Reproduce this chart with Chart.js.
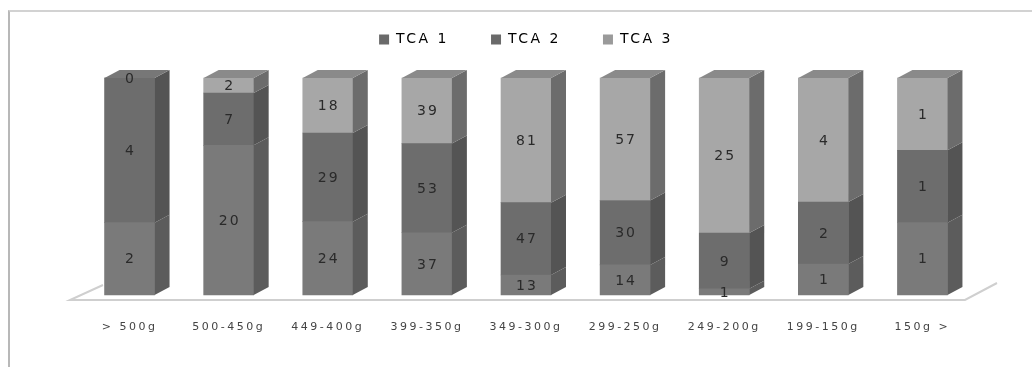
<!DOCTYPE html>
<html>
<head>
<meta charset="utf-8">
<script src="https://cdn.jsdelivr.net/npm/chart.js@4.4.1/dist/chart.umd.min.js"></script>
<style>
  html, body { margin: 0; padding: 0; background: #fff; }
  #caja { position: relative; width: 1032px; height: 367px; overflow: hidden; }
  #marco { position: absolute; left: 8px; top: 10px; width: 1100px; height: 400px;
           border-left: 2px solid #b8b8b8; border-top: 2px solid #d2d2d2; }
  #grafica { position: absolute; left: 0; top: 0; }
</style>
</head>
<body>
<div id="caja">
  <div id="marco"></div>
  <canvas id="grafica" width="1032" height="367"></canvas>
</div>
<script>
const categorias = ['> 500g', '500-450g', '449-400g', '399-350g', '349-300g', '299-250g', '249-200g', '199-150g', '150g >'];
const tca1 = [2, 20, 24, 37, 13, 14, 1, 1, 1];
const tca2 = [4, 7, 29, 53, 47, 30, 9, 2, 1];
const tca3 = [0, 2, 18, 39, 81, 57, 25, 4, 1];
const series = ['TCA 1', 'TCA 2', 'TCA 3'];

const frente = ['#7a7a7a', '#6d6d6d', '#a7a7a7'];
const lado = ['#5c5c5c', '#545454', '#6c6c6c'];
const arriba = ['#858585', '#777777', '#8a8a8a'];
const leyenda = ['#6a6a6a', '#6a6a6a', '#9a9a9a'];

const crudos = [tca1, tca2, tca3];
const totales = categorias.map((c, j) => tca1[j] + tca2[j] + tca3[j]);
const porcentajes = crudos.map(s => s.map((v, j) => v / totales[j] * 100));

const DX = 15, DY = -8;

// espaciado de letras (el original esta estirado en horizontal)
const espaciado = {
  id: 'espaciado',
  beforeLayout(chart) { chart.ctx.letterSpacing = '2.5px'; }
};

// piso gris claro
const piso = {
  id: 'piso',
  beforeDatasetsDraw(chart) {
    const a = chart.chartArea, ctx = chart.ctx;
    ctx.save();
    ctx.strokeStyle = '#cfcfcf';
    ctx.lineWidth = 2;
    ctx.beginPath();
    ctx.moveTo(a.left + 23, a.bottom - 10);
    ctx.lineTo(a.left - 10, a.bottom + 5);
    ctx.lineTo(a.right - 7, a.bottom + 5);
    ctx.lineTo(a.right + 25, a.bottom - 12);
    ctx.stroke();
    ctx.restore();
  }
};

// caras laterales y superior + etiquetas
const barras3d = {
  id: 'barras3d',
  afterDatasetsDraw(chart) {
    const ctx = chart.ctx;
    ctx.save();
    categorias.forEach((c, j) => {
      let ultimo = -1;
      for (let i = 0; i < 3; i++) {
        const b = chart.getDatasetMeta(i).data[j];
        const r = b.x + b.width / 2;
        if (b.base - b.y > 0.1) {
          ctx.fillStyle = lado[i];
          ctx.beginPath();
          ctx.moveTo(r, b.y);
          ctx.lineTo(r + DX, b.y + DY);
          ctx.lineTo(r + DX, b.base + DY);
          ctx.lineTo(r, b.base);
          ctx.closePath();
          ctx.fill();
          ultimo = i;
        }
      }
      if (ultimo >= 0) {
        const b = chart.getDatasetMeta(ultimo).data[j];
        const l = b.x - b.width / 2, r = b.x + b.width / 2;
        ctx.fillStyle = arriba[ultimo];
        ctx.beginPath();
        ctx.moveTo(l, b.y);
        ctx.lineTo(l + DX, b.y + DY);
        ctx.lineTo(r + DX, b.y + DY);
        ctx.lineTo(r, b.y);
        ctx.closePath();
        ctx.fill();
      }
    });
    ctx.letterSpacing = '2px';
    ctx.font = '14px "DejaVu Sans"';
    ctx.fillStyle = '#2a2a2a';
    ctx.textAlign = 'center';
    ctx.textBaseline = 'middle';
    for (let i = 0; i < 3; i++) {
      chart.getDatasetMeta(i).data.forEach((b, j) => {
        ctx.fillText(String(crudos[i][j]), b.x + 1, (b.y + b.base) / 2 + 1);
      });
    }
    ctx.restore();
  }
};

const chartData = {
  labels: categorias,
  datasets: series.map((s, i) => ({
    label: s,
    data: porcentajes[i],
    backgroundColor: frente[i],
    borderWidth: 0,
    barThickness: 50,
    clip: false
  }))
};

const config = {
  type: 'bar',
  data: chartData,
  options: {
    responsive: false,
    animation: false,
    layout: { padding: { left: 80, right: 60, top: -9.5, bottom: 0 } },
    plugins: {
      tooltip: { enabled: false },
      title: {
        // separador entre la leyenda y las barras
        display: true,
        text: '',
        weight: 500,
        color: 'rgba(0,0,0,0)',
        font: { size: 10, lineHeight: 1 },
        padding: { top: 0, bottom: 11.5 }
      },
      legend: {
        position: 'top',
        labels: {
          boxWidth: 10,
          boxHeight: 10,
          padding: 42,
          color: '#666',
          font: { family: 'DejaVu Sans', size: 14 },
          generateLabels: ch => series.map((s, i) => ({
            text: s, fillStyle: leyenda[i], strokeStyle: leyenda[i], lineWidth: 0, datasetIndex: i
          }))
        }
      }
    },
    scales: {
      x: {
        stacked: true,
        grid: { display: false },
        border: { display: false },
        ticks: { color: '#444', padding: 18, font: { family: 'DejaVu Sans', size: 11 } },
        afterFit: s => { s.height = 72; }
      },
      y: { stacked: true, min: 0, max: 100, display: false }
    }
  },
  plugins: [espaciado, piso, barras3d]
};

const ctx1 = document.getElementById('grafica').getContext('2d');
window.myChart1 = new Chart(ctx1, config);
</script>
</body>
</html>
